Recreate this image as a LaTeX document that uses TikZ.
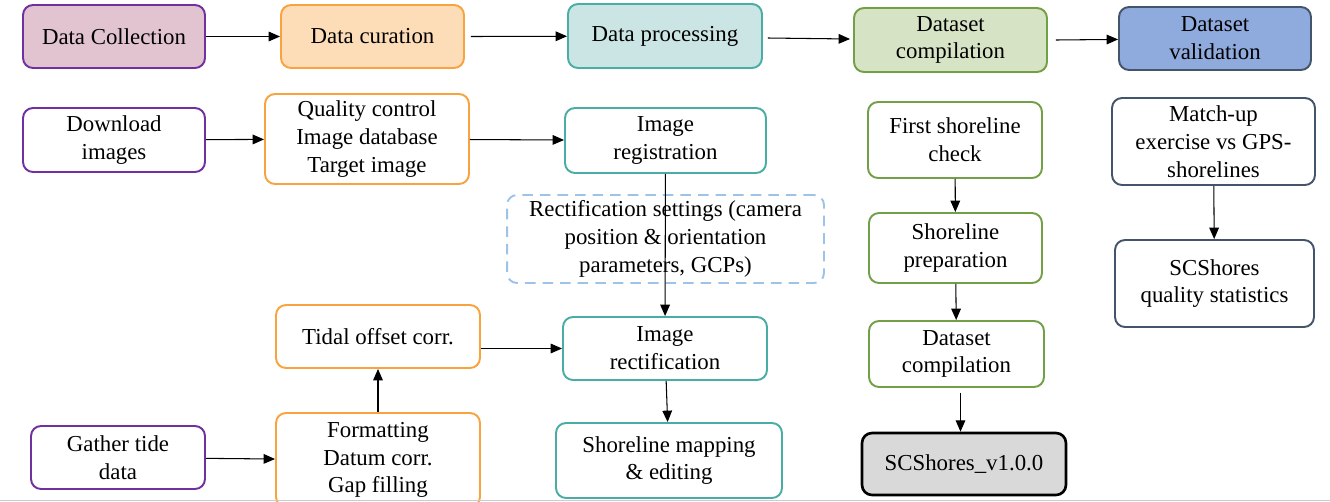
\documentclass[tikz,border=0pt]{standalone}
\usepackage{fontspec}
\setmainfont{Liberation Serif}
\usetikzlibrary{arrows.meta}

\definecolor{purp}{HTML}{7030A0}
\definecolor{purpfill}{HTML}{E2C4D0}
\definecolor{orng}{HTML}{F9A33E}
\definecolor{orngfill}{HTML}{FDDCB8}
\definecolor{tealb}{HTML}{4AADA5}
\definecolor{tealfill}{HTML}{CAE5E3}
\definecolor{grnb}{HTML}{72A046}
\definecolor{grnfill}{HTML}{D7E3C5}
\definecolor{slate}{HTML}{44546A}
\definecolor{slatefill}{HTML}{8FAADC}
\definecolor{dashb}{HTML}{9DC3E6}

\begin{document}
\begin{tikzpicture}[x=0.02cm,y=-0.02cm]
            \tikzset{box/.style={draw,rounded corners=0.2cm,line width=1.1pt,align=center,inner sep=0pt,
                                 font=\fontsize{13}{15.8}\selectfont}};
            \tikzset{collbox/.style={box,draw=purp}};
            \tikzset{curbox/.style={box,draw=orng}};
            \tikzset{procbox/.style={box,draw=tealb}};
            \tikzset{compbox/.style={box,draw=grnb}};
            \tikzset{valbox/.style={box,draw=slate}};
            \tikzset{arr/.style={line width=0.6pt,-{Triangle[length=6.5pt,width=5.5pt]}}};
            \useasboundingbox (0,0) rectangle (1330,501);

            % stage headers
            \node[collbox,fill=purpfill,minimum width=3.64cm,minimum height=1.26cm] (dcol) at (114,36.5) {Data Collection};
            \node[curbox,fill=orngfill,minimum width=3.66cm,minimum height=1.26cm] (dcur) at (372.5,36.5) {Data curation};
            \node[procbox,fill=tealfill,minimum width=3.88cm,minimum height=1.28cm] (dproc) at (665,36) {Data processing};
            \node[compbox,fill=grnfill,minimum width=3.86cm,minimum height=1.28cm] (dcomp) at (950.5,40) {Dataset\\compilation};
            \node[valbox,fill=slatefill,minimum width=3.84cm,minimum height=1.26cm] (dval) at (1215,38.5) {Dataset\\validation};

            % data collection
            \node[collbox,minimum width=3.64cm,minimum height=1.28cm] (dl) at (114,140) {Download\\images};
            \node[collbox,minimum width=3.48cm,minimum height=1.26cm] (gtd) at (118,457.5) {Gather tide\\data};

            % data curation
            \node[curbox,minimum width=4.08cm,minimum height=1.8cm] (qc) at (367,139) {Quality control\\Image database\\Target image};
            \node[curbox,minimum width=4.08cm,minimum height=1.26cm] (tid) at (378,336.5) {Tidal offset corr.};
            \node[curbox,minimum width=4.08cm,minimum height=1.88cm] (fmt) at (378,460) {Formatting\\Datum corr.\\Gap filling};

            % data processing
            \node[procbox,minimum width=4.02cm,minimum height=1.3cm] (ireg) at (665.5,140.5) {Image\\registration};
            \node[box,draw=dashb,dashed,dash pattern=on 6pt off 4pt,minimum width=6.34cm,minimum height=1.76cm] (rset) at (665.5,239)
                {Rectification settings (camera\\position \& orientation\\parameters, GCPs)};
            \node[procbox,minimum width=4.08cm,minimum height=1.26cm] (irect) at (665,348.5) {Image\\rectification};
            \node[procbox,minimum width=4.52cm,minimum height=1.5cm] (smap) at (669,460.5) {Shoreline mapping\\\& editing};

            % dataset compilation
            \node[compbox,minimum width=3.48cm,minimum height=1.52cm] (fsc) at (955,140) {First shoreline\\check};
            \node[compbox,minimum width=3.46cm,minimum height=1.4cm] (spre) at (955.5,248) {Shoreline\\preparation};
            \node[compbox,minimum width=3.5cm,minimum height=1.32cm] (dcomp2) at (956.5,354) {Dataset\\compilation};
            \node[box,draw=black,line width=1.5pt,fill=black!15,minimum width=4.08cm,minimum height=1.24cm] (scv) at (964,464) {SCShores\_v1.0.0};

            % dataset validation
            \node[valbox,minimum width=4.06cm,minimum height=1.74cm] (mu) at (1213.5,141.5) {Match-up\\exercise vs GPS-\\shorelines};
            \node[valbox,minimum width=3.98cm,minimum height=1.74cm] (qstat) at (1214.5,283.5) {SCShores\\quality statistics};

            % arrows
            \draw[arr] (dcol) -- (dcur);
            \draw[arr] ([xshift=0.12cm]dcur.east) -- (dproc);
            \draw[arr] ([xshift=0.1cm,yshift=-0.04cm]dproc.east) -- ([xshift=-0.06cm,yshift=0.02cm]dcomp.west);
            \draw[arr] ([xshift=0.16cm]dcomp.east) -- (dval);
            \draw[arr] (dl) -- (qc);
            \draw[arr] (qc) -- (ireg);
            \draw[arr] (ireg) -- (irect);
            \draw[arr] (tid.east |- irect.west) -- (irect.west);
            \draw[arr] (irect) -- (smap);
            \draw[arr] (gtd) -- (fmt);
            \draw[arr] (fmt) -- (tid);
            \draw[arr] (fsc) -- (spre);
            \draw[arr] (spre) -- (dcomp2);
            \draw[arr] ([xshift=0.08cm,yshift=-0.1cm]dcomp2.south) -- ([xshift=0.08cm]dcomp2.south |- scv.north);
            \draw[arr] (mu) -- (qstat);

            \draw[black!20,line width=0.5pt] (0,500) -- (1330,500);
        \end{tikzpicture}
\end{document}
